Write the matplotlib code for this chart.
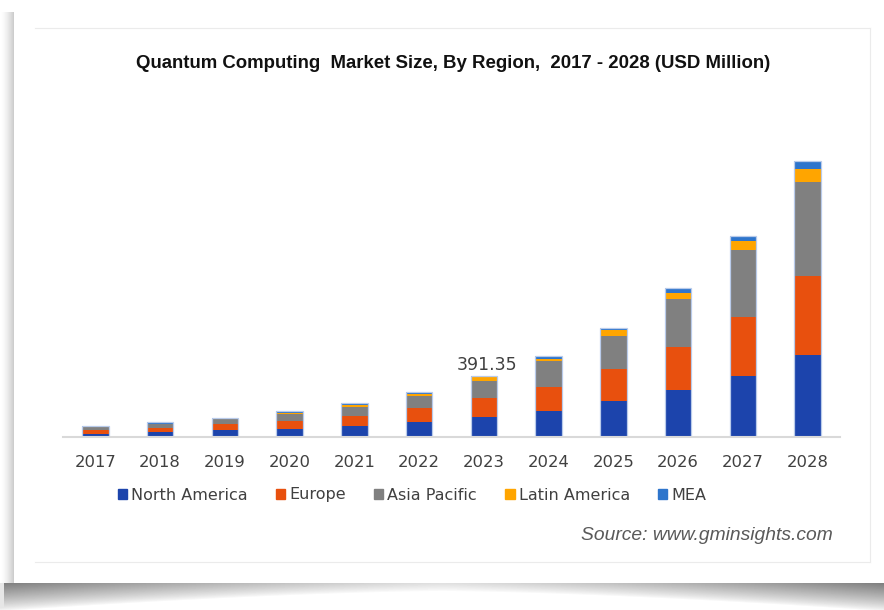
import numpy as np
from matplotlib import pyplot as plt
from matplotlib.patches import Patch
from matplotlib.lines import Line2D

# data (USD Million)
years = ['2017', '2018', '2019', '2020', '2021', '2022',
         '2023', '2024', '2025', '2026', '2027', '2028']
north_america = [17.4, 27.7, 38.7, 49.7, 69.0, 90.3, 125.1, 165.7, 228.2, 299.2, 391.3, 524.8]
europe = [21.3, 28.4, 40.6, 49.0, 61.9, 92.2, 122.5, 152.8, 206.3, 277.2, 380.4, 513.2]
asia_pacific = [21.3, 25.8, 32.3, 43.2, 60.6, 77.4, 111.5, 165.1, 214.7, 306.9, 430.0, 602.2]
latin_america = [1.9, 1.9, 2.6, 11.0, 10.3, 12.9, 21.3, 17.4, 38.7, 41.3, 60.0, 83.8]
mea = [6.5, 6.5, 6.5, 10.3, 11.0, 12.9, 10.95, 14.8, 11.0, 32.2, 32.2, 51.6]
series_names = ['North America', 'Europe', 'Asia Pacific', 'Latin America', 'MEA']
colors = ['#1c44ac', '#e8500e', '#808080', '#ffa500', '#2e75cc']
label_year = '2023'
label_text = '391.35'

W, H = 884, 610
fig = plt.figure(figsize=(W / 100, H / 100), dpi=100)

# background card with shadows
img = np.ones((H, W))
xs = np.arange(W)
# left shadow
for x in range(14):
    img[12:583, x] = 1 - 0.22 * (x / 14) ** 1.5
# bottom shadow, curved
d = np.abs(xs - W / 2) / (W / 2)
depth = 8 + 20 * d ** 1.5
base = 0.88 - 0.38 * d ** 1.2
for y in range(583, H):
    t = (y - 583) / depth
    v = 1 - (1 - base) * np.clip(1 - t, 0, 1) ** 0.8
    img[y, :] = v
img[583:, :4] = np.maximum(img[583:, :4], 0.9)
bg = fig.add_axes([0, 0, 1, 1], zorder=-5)
bg.imshow(img, cmap='gray', vmin=0, vmax=1, aspect='auto', interpolation='bilinear')
bg.axis('off')

# faint inner chart frame
fc = '#ebebeb'
fig.add_artist(Line2D([35 / W, 870 / W], [1 - 28 / H, 1 - 28 / H], color=fc, lw=0.8))
fig.add_artist(Line2D([870 / W, 870 / W], [1 - 28 / H, 1 - 562 / H], color=fc, lw=0.8))
fig.add_artist(Line2D([35 / W, 870 / W], [1 - 562 / H, 1 - 562 / H], color=fc, lw=0.8))

# plot area
base_y = 436.5
top_y = 150
ax = fig.add_axes([63 / W, 1 - base_y / H, (840 - 63) / W, (base_y - top_y) / H])
ax.set_facecolor('none')

x = np.arange(len(years))
bottom = np.zeros(len(years))
for vals, name, c in zip([north_america, europe, asia_pacific, latin_america, mea],
                         series_names, colors):
    ax.bar(x, vals, width=0.41, bottom=bottom, color=c, label=name, linewidth=0)
    bottom += np.array(vals)
ax.bar(x, bottom, width=0.41, fill=False, edgecolor='#b9cbea', linewidth=0.9)

ax.set_xlim(-0.5, len(years) - 0.5)
ax.set_ylim(0, (base_y - top_y) * 391.35 / 60.7)
ax.set_xticks(x)
ax.set_xticklabels(years, fontsize=11.8, color='#404040')
ax.tick_params(axis='x', length=0, pad=13)
ax.set_yticks([])
for s in ['top', 'right', 'left']:
    ax.spines[s].set_visible(False)
ax.spines['bottom'].set_color('#d9d9d9')
ax.spines['bottom'].set_linewidth(1.5)

i = years.index(label_year)
ax.annotate(label_text, (x[i], bottom[i]), xytext=(2, 1), textcoords='offset points',
            ha='center', va='bottom', fontsize=12.5, color='#404040')

fig.text(453 / W, 1 - 63 / H,
         'Quantum Computing  Market Size, By Region,  2017 - 2028 (USD Million)',
         ha='center', va='center', fontsize=13.4, fontweight='bold',
         family='Liberation Sans', color='#111111')

handles = [Patch(color=c) for c in colors]
fig.legend(handles, series_names, loc='center', bbox_to_anchor=(412 / W, 1 - 495 / H),
           ncol=5, frameon=False, fontsize=11.5, labelcolor='#404040',
           handlelength=0.6, handleheight=0.6, handletextpad=0.25, columnspacing=1.75)

fig.text(833 / W, 1 - 535 / H, 'Source: www.gminsights.com', ha='right', va='center',
         fontsize=13.9, style='italic', family='Liberation Sans', color='#595959')

fig.savefig('out.png', dpi=100)
